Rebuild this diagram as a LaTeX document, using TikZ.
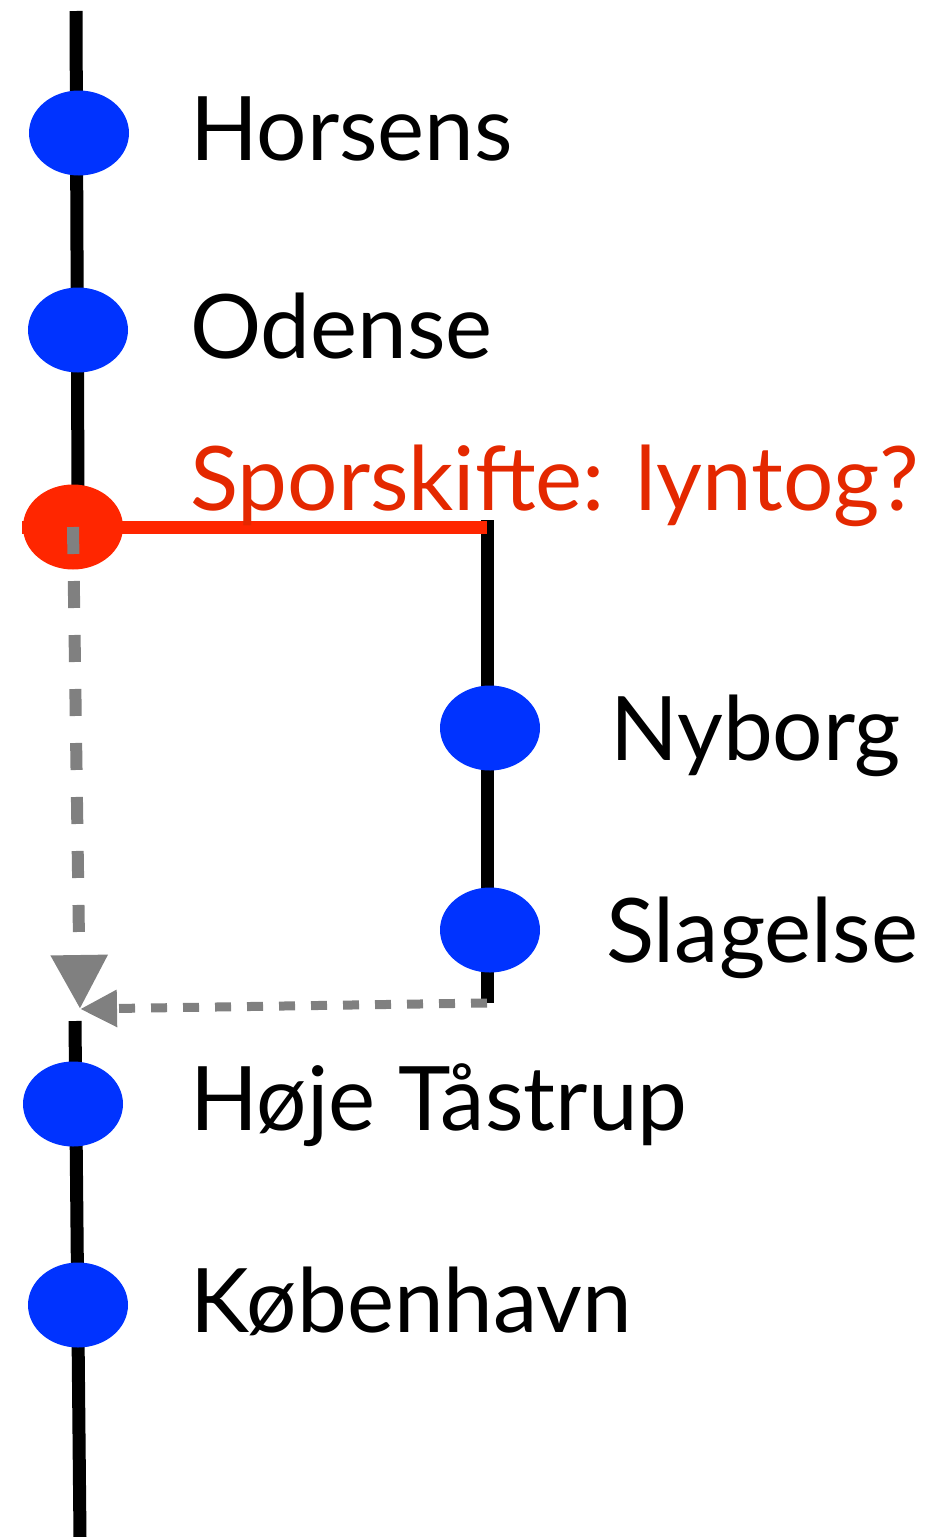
\documentclass[tikz,border=0pt]{standalone}
\usepackage{fontspec}
\setmainfont{Lato}
\usetikzlibrary{shapes.geometric,arrows.meta}
\definecolor{stopblue}{RGB}{0,51,255}
\definecolor{switchred}{RGB}{255,38,0}
\definecolor{textred}{RGB}{228,40,0}
\definecolor{detour}{RGB}{128,128,128}
\tikzset{
  stop/.style={ellipse,fill=stopblue,minimum width=100pt,minimum height=85pt,inner sep=0pt},
  town/.style={anchor=base west,inner sep=0pt,font=\fontsize{89}{96}\selectfont},
  track/.style={line width=13pt},
}
\begin{document}
\begin{tikzpicture}[x=1pt,y=-1pt]
\useasboundingbox (0,0) rectangle (944,1537);
\coordinate (top) at (76,11);
\coordinate (bottom) at (80,1537);
\coordinate (joinA) at (80,1009);
\coordinate (lowstart) at (75,1021);
\coordinate (bend) at (487,527);
\coordinate (branchend) at (487,1003);
\coordinate (swleft) at (22,527);
% tracks first, stations on top
\draw[track] (top)--(78,490);
\draw[track] (lowstart)--(bottom);
\draw[track] (487,520)--(branchend);
\node[stop] (horsens) at (79,133) {};
\node[stop] (odense) at (78,330) {};
\node[stop,fill=switchred] (switch) at (73,527) {};
\node[stop] (nyborg) at (490,728) {};
\node[stop] (slagelse) at (490,930) {};
\node[stop] (hoeje) at (73,1104) {};
\node[stop] (kbh) at (78,1305) {};
\draw[line width=13pt,switchred] (swleft)--(bend);
\draw[line width=12pt,detour,dash pattern=on 27pt off 27pt,-{Triangle[length=54pt,width=54pt]}] (switch.center)--(joinA);
\draw[line width=9pt,detour,dash pattern=on 16pt off 16pt,-{Triangle[length=37pt,width=35pt]}] (branchend)--(joinA);
\node[town] (lhorsens) at (190,160) {Horsens};
\node[town] (lodense) at (190,358) {Odense};
\node[town,text=textred] (lswitch) at (190,510) {Sporskifte: lyntog?};
\node[town] (lnyborg) at (610,760) {Nyborg};
\node[town] (lslagelse) at (606,962) {Slagelse};
\node[town] (lhoeje) at (190,1130) {Høje Tåstrup};
\node[town] (lkbh) at (190,1332) {København};
\end{tikzpicture}
\end{document}
